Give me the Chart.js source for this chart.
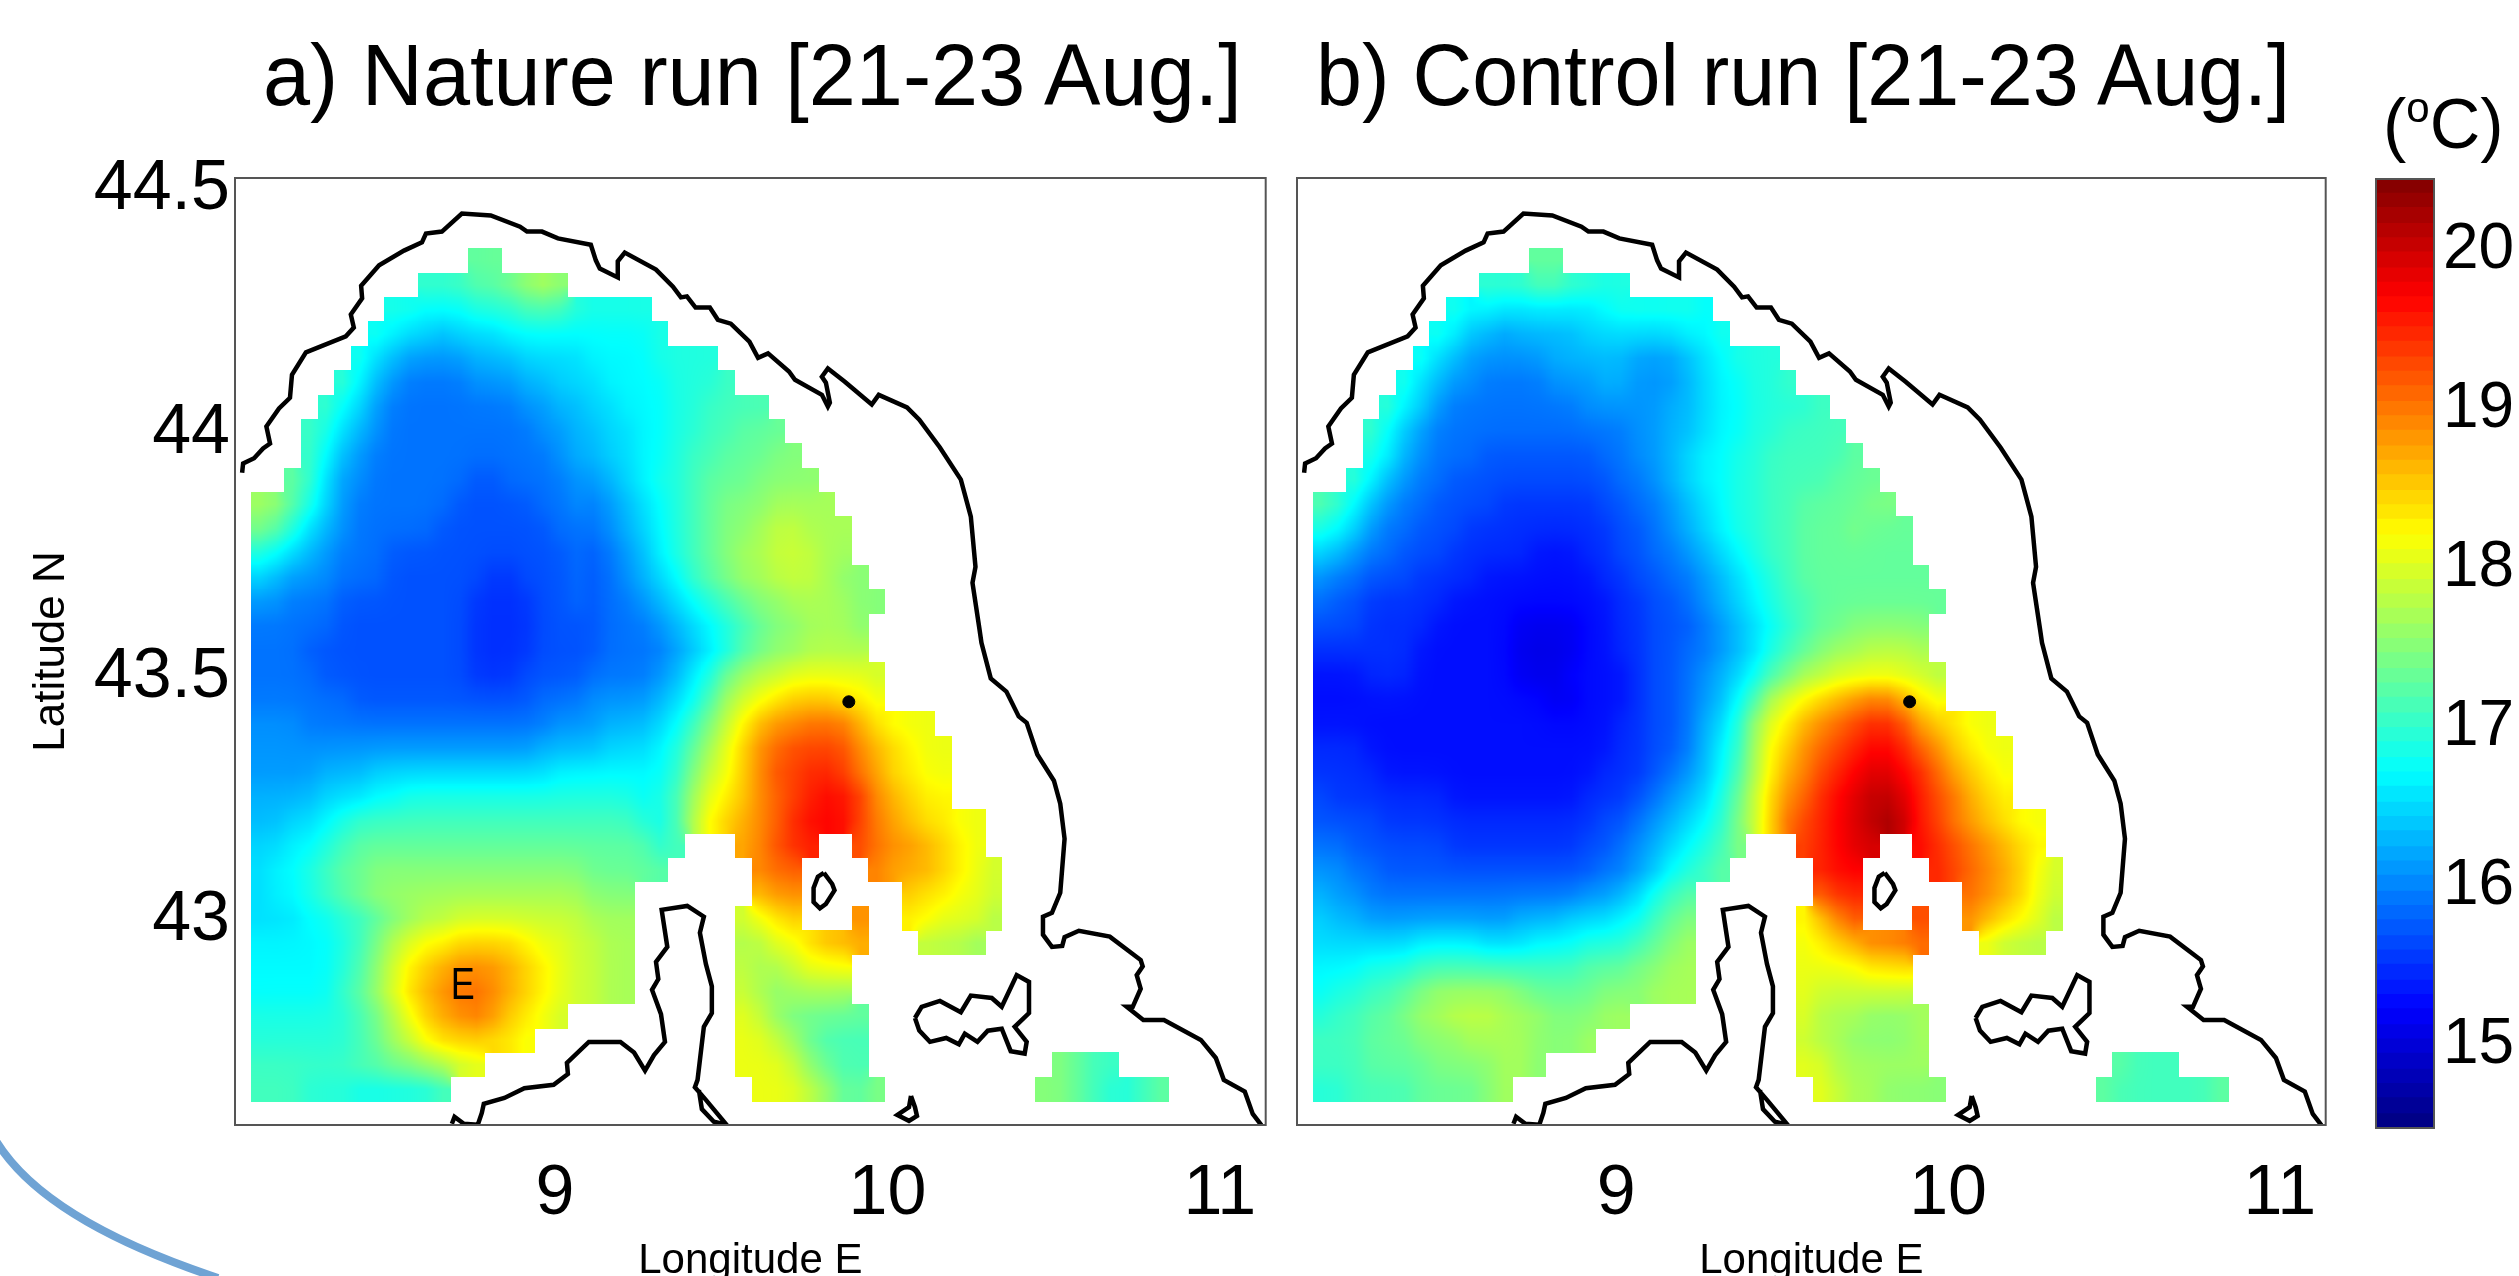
<!DOCTYPE html>
<html>
<head>
<meta charset="utf-8">
<title>Nature run and control run temperature</title>
<script src="https://cdn.jsdelivr.net/npm/chart.js@4"></script>
<style>
  html, body { margin: 0; background: #fff; }
  #page { position: relative; width: 2519px; height: 1276px; overflow: hidden; font-family: "Liberation Sans", sans-serif; color: #000; }
  #page canvas, #page svg, .panelTitle { position: absolute; }
  .panelTitle { top: 31px; font-size: 87px; line-height: 87px; white-space: nowrap; transform-origin: left top; }
  #unit { position: absolute; left: 2383px; top: 82px; font-size: 70px; line-height: 84px; white-space: nowrap; }
  #unit sup { font-size: 42px; vertical-align: 26px; line-height: 0; }
</style>
</head>
<body>
<div id="page">
  <svg width="2519" height="1276"><path d="M-4,1141 Q45,1221 218,1278" fill="none" stroke="#6fa3d4" stroke-width="8"/></svg>
  <canvas id="natureChart" width="1285" height="1276" style="left:0;top:0"></canvas>
  <canvas id="controlChart" width="1060" height="1276" style="left:1285px;top:0"></canvas>
  <canvas id="scaleChart" width="174" height="1276" style="left:2345px;top:0"></canvas>
  <div class="panelTitle" style="left:263px;transform:scaleX(0.973)">a) Nature run [21-23 Aug.]</div>
  <div class="panelTitle" style="left:1316px;transform:scaleX(0.95)">b) Control run [21-23 Aug.]</div>
  <div id="unit">(<sup>o</sup>C)</div>
</div>
<script>
const LON_MIN = 8.0376;
const LON_MAX = 11.138;
const LAT_MIN = 42.5564;
const LAT_MAX = 44.5;
const TEMP_MIN = 14.48;
const TEMP_MAX = 20.45;
const lonTicks = [9, 10, 11];
const latTicks = [43, 43.5, 44, 44.5];
const tempTicks = [15, 16, 17, 18, 19, 20];

// model grid: first cell centre and spacing, in degrees
const GRID_LON = 8.111;
const GRID_LAT = 44.33;
const GRID_DLON = 0.0502;
const GRID_DLAT = 0.05;

// sea columns in each grid row, north to south
const seaRanges = [
  [[13,14]], [[10,18]], [[8,23]], [[7,24]], [[6,27]], [[5,28]], [[4,30]], [[3,31]], [[3,32]], [[2,33]],
  [[0,34]], [[0,35]], [[0,35]], [[0,36]], [[0,37]], [[0,36]], [[0,36]], [[0,37]], [[0,37]], [[0,40]],
  [[0,41]], [[0,41]], [[0,41]], [[0,43]],
  [[0,25],[29,33],[36,43]],
  [[0,24],[30,32],[37,44]],
  [[0,22],[30,32],[39,44]],
  [[0,22],[29,32],[36,36],[39,44]],
  [[0,22],[29,36],[40,43]],
  [[0,22],[29,35]],
  [[0,22],[29,35]],
  [[0,18],[29,36]],
  [[0,16],[29,36]],
  [[0,13],[29,36],[48,51]],
  [[0,11],[30,37],[47,54]]
];

// one letter per cell, grouped in fives: a = 14.5 degC, each next letter 0.2 degC more
const TEMP_CODES = "abcdefghijklmnopqrstuvwxyzABCD";

const natureRows = [
  "..... ..... ...oo",
  "..... ..... nnnoo pqrq",
  "..... ...mm lllmm mnnnm mmmm",
  "..... ..mlk kjkkk lllll llllm",
  "..... .mkji iiijj jkkkk llllm mmm",
  "..... nljih hhhii ijjkk kllll mmmn",
  "....n lkihh hhhhh hiijj kklll mmnnn n",
  "...nm kjihh hhhhh hhiij jkkll mmnno oo",
  "...nl jihhh hhhhh hhhij jkkll mnnoo opp",
  "..onk iihhh hhhgg hhhhi ijklm mnooo pppp",
  "qqomk ihhhh hhggg gghhi hijkl mnopp pqqqq",
  "pomkj ihhhh hgggg ggghh hijkl mnopp qrrqq q",
  "mlkji hhhgg ggggg ggggh ghijl mnopq qrrrq q",
  "kjiii hhhgg ggggf fgggh ghijk lnopq qrrrq pp",
  "iihhh ggggg gggff ffggh ghhij klmno ppqqq qpp",
  "hhhhh ggggg gggff ffggg ghhhi jklmn oppqq qp",
  "hhhgg ggggg gggff ffggg ghhhh ijkln oppqq qq",
  "hhhhg ggggg gggff fgggg hhhhi jlmpq rrsss ssr",
  "hhhhh hgggg ggggg gghhh iiiij klnqr stuuu tts",
  "iiihh hhhhh hhhhh hhhii ijjjk lnprt vwwxx xvtss s",
  "iiiii iiiii iiiii iijjj jkkkl moqsu wxyyy ywvut ss",
  "iiiij jjkkk kkkkk kkkll lllll mprsu wyyzz ywvtt ss",
  "jjjjk kkllm mmmmm mmmmm mmmlm nqstu wxyzA Azwvu tt",
  "jjkkl mnnnn nnnnn nnnnn nnnml nrtuv wxzAA Aywvu ttss",
  "kkllm noooo ooooo ooooo oooom n...v wyzz. .yxww vuts",
  "kllmn ooppp ppppp ppppp ooooo ..... wxx.. ..wvv vutsr",
  "kllmn opqqq qqqqq qqqqq ppp.. ..... vww.. ....u ttssr",
  "kkkll mmnop qqrrr rrrrr qqq.. ....r stu.. .w..t tsssq",
  "lllll mnprs ttuuu utssr rqq.. ....q qssuv vv... qqqp",
  "lllll mnprt uvwww vutsr rqq.. ....r qqrss s",
  "lllll noqsu vwxxw vutsr rqq.. ....r qpqqq q",
  "mmmmm mnoqs uvwxw utsr. ..... ....s rpooo oo",
  "mmmmm mnoqr tuuut ts... ..... ....s srqon nn",
  "nnnnn noopp qqrr. ..... ..... ....s ssrpo nn... ..... ...po nn",
  "nnnmm mllll lm... ..... ..... ..... sssrq oop.. ..... ..ppo nmmno"
];

const controlRows = [
  "..... ..... ...oo",
  "..... ..... nnnoo nnmm",
  "..... ...ml lkkkk kklmm mmml",
  "..... ..mlj jijjj jkkkk kkllm",
  "..... .mkji iiiij jjjji iijkl mmm",
  "..... mkjii hhhhi iijji iijkl lmmn",
  "....n lkihh hhhhh hiiii ijjkl lmmmm n",
  "...nl jihhh hhhhh hhhhi ijjkl lmmnn nn",
  "...ml jihhh ggggg gghhi ijkll mmnnn nno",
  "..nlj ihhgg ggggg ggghh ijkll mmnnn nooo",
  "onlji hhggg gffff ffggh hijkl mmnno ooopp",
  "mlkih hgggf fffff fffgg hijkl mmnno oopoo o",
  "kjihh gggff fffee effgg hhijk lmnno ooooo o",
  "ihhgg gffff eeeee eeffg ghhij klmno ooooo oo",
  "hggff fffee eeeee eeeff gghij klmnn ooooo ooo",
  "gggff ffeee eeddd deeff ggghi jklmn ooppp pp",
  "fffff feeee eeddd deeff gghhi jkmno pqqrr rq",
  "eeeff feeee eeddd eeeef gghij klnoq qrrrr rrq",
  "eeeee eeeee eeeed deeef gghij lnrst uvwxx vts",
  "eeeee eeeee eeeee eeeff gghjk mqstv wxyzz yvuts s",
  "fffee eeeee eeeee eeeff gghjl mqtuw xyzAA zxwut ss",
  "ffffe eeeee eeeee eefff ghijl nqtvw yzABB Azxvu ts",
  "gffff fffee eeeee efffg hijkm oruwx zABCC Bzyxv ut",
  "ggggf fffff fffff ffggh ijklm pruxy zABCD Czywv utss",
  "hhggg gggff fffff fgghi jklmn p...y zABB. .Azyx wvut",
  "iihhg ggggg ggggg gghhi jlmno ..... zAA.. ..zyx wvusr",
  "jiihh hhhhh hhhhh hiijk mno.. ..... yzz.. ....x wvusr",
  "kjjii iiiii iijjj kkkll nop.. ....s uwy.. .y..w vutsq",
  "kkkkk kllll kkkll lmmmn opq.. ....s tuvxx xx... rqqq",
  "lllmm mnnnn nnnnn nooop pqq.. ....s ssstt t",
  "lmmnn opqqq qqpoo ooppp qqq.. ....s rrrrr r",
  "mnnoo pqqrr rqqqp ppqq. ..... ....s qqqpp pq",
  "nnnoo opppq qqqpp pq... ..... ....r qqppp pq",
  "nnnoo ooppp pqqp. ..... ..... ....s sqqqq qq... ..... ...on nn",
  "mmnnn noooo pq... ..... ..... ..... srqqp ppp.. ..... ..onn nnnno"
];

const colorLevels = [
  14.48, 14.57, 14.67, 14.76, 14.85, 14.95, 15.04, 15.13, 15.23, 15.32, 15.41, 15.51, 15.60,
  15.69, 15.79, 15.88, 15.97, 16.07, 16.16, 16.25, 16.35, 16.44, 16.53, 16.63, 16.72, 16.81,
  16.91, 17.00, 17.09, 17.19, 17.28, 17.37, 17.47, 17.56, 17.65, 17.75, 17.84, 17.93, 18.03,
  18.12, 18.21, 18.31, 18.40, 18.49, 18.59, 18.68, 18.77, 18.87, 18.96, 19.05, 19.15, 19.24,
  19.33, 19.43, 19.52, 19.61, 19.71, 19.80, 19.89, 19.99, 20.08, 20.17, 20.27, 20.36, 20.45
];

// coastlines as [lon, lat]
const coastItaly = [
  [8.059,43.895],[8.062,43.914],[8.095,43.925],[8.122,43.945],[8.143,43.955],[8.132,43.990],[8.170,44.027],
  [8.203,44.049],[8.209,44.096],[8.251,44.142],[8.371,44.175],[8.395,44.193],[8.386,44.220],[8.420,44.253],
  [8.417,44.279],[8.471,44.321],[8.546,44.351],[8.600,44.368],[8.612,44.386],[8.660,44.390],[8.720,44.427],
  [8.807,44.423],[8.895,44.400],[8.916,44.390],[8.961,44.390],[9.009,44.376],[9.108,44.363],[9.123,44.331],
  [9.135,44.314],[9.189,44.296],[9.189,44.329],[9.210,44.347],[9.304,44.312],[9.355,44.277],[9.379,44.255],
  [9.397,44.257],[9.423,44.234],[9.466,44.234],[9.490,44.209],[9.529,44.201],[9.585,44.164],[9.611,44.131],
  [9.641,44.140],[9.704,44.103],[9.722,44.086],[9.803,44.055],[9.821,44.031],[9.827,44.039],[9.815,44.080],
  [9.803,44.092],[9.821,44.109],[9.872,44.082],[9.953,44.035],[9.974,44.055],[10.059,44.029],[10.096,44.004],
  [10.158,43.947],[10.221,43.881],[10.251,43.805],[10.265,43.702],[10.256,43.669],[10.277,43.574],[10.283,43.546],
  [10.311,43.473],[10.358,43.446],[10.395,43.395],[10.419,43.382],[10.451,43.317],[10.501,43.263],[10.520,43.216],
  [10.533,43.144],[10.520,43.033],[10.495,42.992],[10.468,42.984],[10.468,42.947],[10.495,42.922],[10.526,42.924],
  [10.533,42.942],[10.576,42.955],[10.669,42.943],[10.762,42.895],[10.768,42.882],[10.750,42.864],[10.762,42.836],
  [10.738,42.799],[10.720,42.799],[10.770,42.772],[10.832,42.772],[10.943,42.731],[10.988,42.694],[11.012,42.649],
  [11.075,42.625],[11.099,42.579],[11.125,42.556]
];
const coastCorsica = [
  [8.690,42.559],[8.698,42.573],[8.726,42.559],[8.768,42.557],[8.780,42.581],[8.786,42.600],[8.848,42.612],
  [8.908,42.632],[8.996,42.639],[9.039,42.661],[9.036,42.684],[9.102,42.727],[9.197,42.727],[9.238,42.705],
  [9.271,42.668],[9.298,42.700],[9.331,42.727],[9.319,42.784],[9.292,42.834],[9.311,42.856],[9.304,42.891],
  [9.338,42.922],[9.321,42.998],[9.398,43.006],[9.448,42.984],[9.436,42.951],[9.454,42.887],[9.472,42.841],
  [9.472,42.786],[9.448,42.758],[9.429,42.649],[9.421,42.634],[9.454,42.608],[9.516,42.557],[9.478,42.563],
  [9.442,42.589],[9.433,42.628]
];
const coastCapraia = [
  [9.809,43.074],[9.834,43.051],[9.841,43.038],[9.815,43.010],[9.797,43.001],[9.778,43.014],[9.778,43.043],
  [9.791,43.066],[9.809,43.074]
];
const coastElba = [
  [10.083,42.776],[10.103,42.799],[10.158,42.811],[10.221,42.788],[10.251,42.822],[10.314,42.817],[10.344,42.799],
  [10.389,42.864],[10.426,42.850],[10.426,42.786],[10.383,42.758],[10.419,42.727],[10.413,42.703],[10.371,42.708],
  [10.344,42.754],[10.302,42.750],[10.271,42.727],[10.233,42.744],[10.215,42.722],[10.177,42.735],[10.128,42.727],
  [10.096,42.750],[10.083,42.776]
];
const coastPianosa = [
  [10.071,42.616],[10.083,42.593],[10.089,42.575],[10.065,42.565],[10.030,42.577],[10.065,42.593],[10.071,42.616]
];
const coastLines = [coastItaly, coastCorsica, coastCapraia, coastElba, coastPianosa];
const stationPoint = [9.884, 43.425];
const eddyLabel = { text: "E", lon: 8.723, lat: 42.840 };

const FONT_FAMILY = '"Liberation Sans", sans-serif';

function jetColor(temp) {
  const t = (temp - TEMP_MIN) / (TEMP_MAX - TEMP_MIN);
  const band = (c) => Math.round(255 * Math.min(1, Math.max(0, 1.5 - Math.abs(4 * t - c))));
  return [band(3), band(2), band(1)];
}

function parseGrid(rows) {
  return seaRanges.map((ranges, r) => {
    const codes = (rows[r] || "").replace(/ /g, "");
    const line = [];
    ranges.forEach(([from, to]) => {
      let last = null;
      for (let c = from; c <= to; c++) {
        const idx = TEMP_CODES.indexOf(codes[c]);
        if (idx >= 0) last = 14.5 + idx * 0.2;
        line[c] = last;
      }
      // a cell at the start of a range can miss its letter, fill from the right
      for (let c = to; c >= from; c--) {
        if (line[c] === null) line[c] = line[c + 1];
      }
    });
    return line;
  });
}

function cellAt(grid, r, c) {
  const v = grid[r] ? grid[r][c] : undefined;
  return typeof v === "number" ? v : null;
}

// light smoothing of the hand-read letters, only for the shading
function shadeGrid(grid) {
  return grid.map((line, r) => line.map((v, c) => {
    if (typeof v !== "number") return v;
    let sum = v * 4, weight = 4;
    [[0,1,1],[0,-1,1],[1,0,1],[-1,0,1],[1,1,0.5],[1,-1,0.5],[-1,1,0.5],[-1,-1,0.5]].forEach(([dr, dc, w]) => {
      const n = cellAt(grid, r + dr, c + dc);
      if (n !== null) { sum += n * w; weight += w; }
    });
    return sum / weight;
  }));
}

function sampleGrid(grid, rf, cf) {
  const r0 = Math.floor(rf), c0 = Math.floor(cf);
  const fr = rf - r0, fc = cf - c0;
  let sum = 0, weight = 0;
  [[0,0,(1-fr)*(1-fc)],[0,1,(1-fr)*fc],[1,0,fr*(1-fc)],[1,1,fr*fc]].forEach(([dr, dc, w]) => {
    const n = cellAt(grid, r0 + dr, c0 + dc);
    if (n !== null) { sum += n * w; weight += w; }
  });
  return weight > 0 ? sum / weight : null;
}

// each cell is a point whose marker is a small shaded tile (like shading interp)
function makeCellTile(shade, r, c) {
  const w = 17, h = 25;
  const tile = document.createElement("canvas");
  tile.width = w;
  tile.height = h;
  const ctx = tile.getContext("2d");
  const img = ctx.createImageData(w, h);
  for (let py = 0; py < h; py++) {
    for (let px = 0; px < w; px++) {
      const temp = sampleGrid(shade, r + (py + 0.5) / h - 0.5, c + (px + 0.5) / w - 0.5);
      const [cr, cg, cb] = jetColor(temp === null ? shade[r][c] : temp);
      const i = (py * w + px) * 4;
      img.data[i] = cr; img.data[i + 1] = cg; img.data[i + 2] = cb; img.data[i + 3] = 255;
    }
  }
  ctx.putImageData(img, 0, 0);
  return tile;
}

function buildCellDataset(rows) {
  const grid = parseGrid(rows);
  const shade = shadeGrid(grid);
  const points = [];
  const tiles = [];
  seaRanges.forEach((ranges, r) => {
    ranges.forEach(([from, to]) => {
      for (let c = from; c <= to; c++) {
        points.push({ x: GRID_LON + c * GRID_DLON, y: GRID_LAT - r * GRID_DLAT, v: grid[r][c] });
        tiles.push(makeCellTile(shade, r, c));
      }
    });
  });
  return { label: "SST", data: points, pointStyle: tiles, pointRadius: 1, showLine: false };
}

const framePlugin = {
  id: "frame",
  afterDraw(chart) {
    const { ctx, chartArea: a } = chart;
    ctx.save();
    ctx.strokeStyle = "#555";
    ctx.lineWidth = 2;
    ctx.strokeRect(a.left, a.top, a.right - a.left, a.bottom - a.top);
    ctx.restore();
  },
};

const eddyPlugin = {
  id: "eddyLabel",
  afterDatasetsDraw(chart) {
    const { ctx, scales } = chart;
    ctx.save();
    ctx.fillStyle = "#000";
    ctx.font = `44px ${FONT_FAMILY}`;
    ctx.textAlign = "center";
    ctx.textBaseline = "middle";
    ctx.fillText(eddyLabel.text, scales.x.getPixelForValue(eddyLabel.lon), scales.y.getPixelForValue(eddyLabel.lat), 24);
    ctx.restore();
  },
};

function renderPanel(canvasId, rows, opts) {
  const coastSets = coastLines.map((line, i) => ({
    label: `coast ${i}`,
    data: line.map(([x, y]) => ({ x, y })),
    showLine: true,
    borderColor: "#000",
    borderWidth: 4.5,
    pointRadius: 0,
    tension: 0,
  }));
  const stationSet = {
    label: "station",
    data: [{ x: stationPoint[0], y: stationPoint[1] }],
    pointStyle: "circle",
    pointRadius: 6,
    backgroundColor: "#000",
    borderColor: "#000",
    showLine: false,
  };

  return new Chart(document.getElementById(canvasId), {
    type: "scatter",
    data: { datasets: [stationSet, ...coastSets, buildCellDataset(rows)] },
    plugins: opts.plugins,
    options: {
      responsive: false,
      animation: false,
      devicePixelRatio: 1,
      events: [],
      layout: { padding: { top: 178, right: opts.rightPad, left: 0, bottom: 0 } },
      plugins: { legend: { display: false }, tooltip: { enabled: false } },
      scales: {
        x: {
          type: "linear",
          min: LON_MIN,
          max: LON_MAX,
          afterBuildTicks: (scale) => { scale.ticks = lonTicks.map((value) => ({ value })); },
          afterFit: (scale) => { scale.height = 151; },
          grid: { display: false, drawTicks: false },
          border: { display: false },
          ticks: {
            color: "#000",
            padding: 28,
            maxRotation: 0,
            font: { family: FONT_FAMILY, size: 70 },
            callback: (value) => String(value),
          },
          title: {
            display: true,
            text: "Longitude E",
            color: "#000",
            font: { family: FONT_FAMILY, size: 42, lineHeight: 0.7 },
            padding: 0,
          },
        },
        y: {
          type: "linear",
          min: LAT_MIN,
          max: LAT_MAX,
          afterBuildTicks: (scale) => { scale.ticks = latTicks.map((value) => ({ value })); },
          afterFit: (scale) => { scale.width = opts.axisWidth; },
          grid: { display: false, drawTicks: false },
          border: { display: false },
          ticks: {
            display: opts.showLatLabels,
            color: "#000",
            padding: 5,
            labelOffset: 12,
            font: { family: FONT_FAMILY, size: 70 },
            callback: (value) => String(value),
          },
          title: {
            display: opts.showLatLabels,
            text: "Latitude N",
            color: "#000",
            font: { family: FONT_FAMILY, size: 44 },
            padding: { top: 25, bottom: 0 },
          },
        },
      },
    },
  });
}

function renderColorScale() {
  const datasets = colorLevels.slice(0, -1).map((lo, i) => {
    const [r, g, b] = jetColor((lo + colorLevels[i + 1]) / 2);
    return {
      label: `${lo}`,
      data: [[lo, colorLevels[i + 1]]],
      backgroundColor: `rgb(${r},${g},${b})`,
      borderWidth: 0,
      inflateAmount: 0.5,
      barPercentage: 1,
      categoryPercentage: 1,
    };
  });

  return new Chart(document.getElementById("scaleChart"), {
    type: "bar",
    data: { labels: [""], datasets },
    plugins: [framePlugin],
    options: {
      responsive: false,
      animation: false,
      devicePixelRatio: 1,
      events: [],
      layout: { padding: { top: 179, bottom: 148, left: 31, right: 0 } },
      plugins: { legend: { display: false }, tooltip: { enabled: false } },
      scales: {
        x: { display: false, stacked: true },
        y: {
          position: "right",
          min: TEMP_MIN,
          max: TEMP_MAX,
          afterBuildTicks: (scale) => { scale.ticks = tempTicks.map((value) => ({ value })); },
          afterFit: (scale) => { scale.width = 85; },
          grid: { display: false, drawTicks: false },
          border: { display: false },
          ticks: {
            color: "#000",
            padding: 9,
            font: { family: FONT_FAMILY, size: 64 },
            callback: (value) => String(value),
          },
        },
      },
    },
  });
}

renderPanel("natureChart", natureRows, {
  rightPad: 19, axisWidth: 235, showLatLabels: true, plugins: [framePlugin, eddyPlugin],
});
renderPanel("controlChart", controlRows, {
  rightPad: 17, axisWidth: 12, showLatLabels: false, plugins: [framePlugin],
});
renderColorScale();
</script>
</body>
</html>
